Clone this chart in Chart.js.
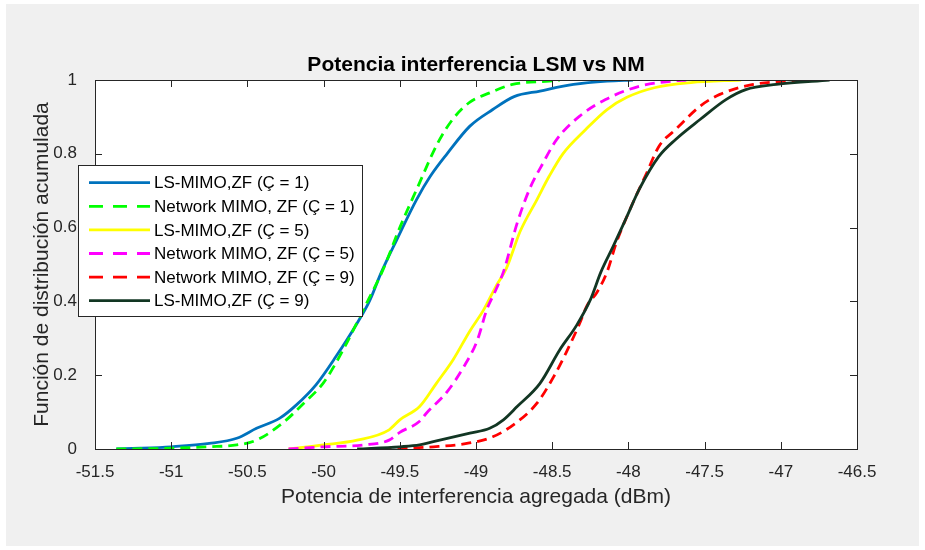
<!DOCTYPE html>
<html>
<head>
<meta charset="utf-8">
<script src="https://cdn.jsdelivr.net/npm/chart.js@4.4.1/dist/chart.umd.min.js"></script>
<style>
  html, body { margin: 0; padding: 0; background: #ffffff; }
  #wrap { width: 925px; height: 550px; }
</style>
</head>
<body>
<div id="wrap"><canvas id="cdfChart" width="925" height="550"></canvas></div>
<script>
// Datos (CDF de la potencia de interferencia)
const chartTitle = 'Potencia interferencia LSM vs NM';
const xTicks = [-51.5, -51, -50.5, -50, -49.5, -49, -48.5, -48, -47.5, -47, -46.5];
const yTicks = [0, 0.2, 0.4, 0.6, 0.8, 1];

const seriesLabels = [
    'LS-MIMO,ZF (Ç = 1)',
    'Network MIMO, ZF (Ç = 1)',
    'LS-MIMO,ZF (Ç = 5)',
    'Network MIMO, ZF (Ç = 5)',
    'Network MIMO, ZF (Ç = 9)',
    'LS-MIMO,ZF (Ç = 9)'
];

const ls1X = [-51.36, -51.2, -51.0, -50.75, -50.57, -50.44, -50.29, -50.18, -50.05, -49.92, -49.78, -49.70, -49.62, -49.52, -49.39, -49.30, -49.19, -49.04, -48.89, -48.75, -48.58, -48.36, -48.14, -47.97];
const ls1Y = [0, 0.002, 0.006, 0.015, 0.029, 0.056, 0.083, 0.119, 0.174, 0.25, 0.341, 0.40, 0.48, 0.567, 0.676, 0.739, 0.80, 0.875, 0.92, 0.955, 0.970, 0.988, 0.997, 1];

const nm1X = [-51.36, -51.0, -50.75, -50.57, -50.44, -50.27, -50.13, -50.0, -49.87, -49.74, -49.61, -49.50, -49.39, -49.25, -49.15, -49.04, -48.91, -48.76, -48.52, -48.45];
const nm1Y = [0, 0.002, 0.006, 0.011, 0.024, 0.07, 0.124, 0.18, 0.27, 0.377, 0.486, 0.60, 0.703, 0.83, 0.895, 0.94, 0.965, 0.988, 0.997, 1];

const ls5X = [-50.23, -50.0, -49.78, -49.57, -49.50, -49.37, -49.26, -49.15, -49.04, -48.95, -48.87, -48.80, -48.71, -48.60, -48.52, -48.43, -48.28, -48.14, -48.01, -47.83, -47.59, -47.26];
const ls5Y = [0, 0.011, 0.024, 0.052, 0.079, 0.115, 0.178, 0.242, 0.32, 0.377, 0.44, 0.49, 0.59, 0.676, 0.739, 0.80, 0.866, 0.92, 0.953, 0.979, 0.993, 1];

const nm5X = [-50.23, -50.0, -49.74, -49.57, -49.50, -49.37, -49.33, -49.19, -49.08, -48.99, -48.93, -48.87, -48.82, -48.73, -48.65, -48.56, -48.47, -48.32, -48.15, -47.93, -47.71, -47.62];
const nm5Y = [0, 0.006, 0.011, 0.024, 0.045, 0.075, 0.095, 0.155, 0.223, 0.296, 0.377, 0.431, 0.48, 0.612, 0.703, 0.775, 0.839, 0.902, 0.947, 0.983, 0.997, 1];

const nm9X = [-49.62, -49.28, -49.06, -48.89, -48.74, -48.60, -48.49, -48.41, -48.32, -48.27, -48.21, -48.14, -48.08, -47.99, -47.88, -47.80, -47.69, -47.53, -47.40, -47.18, -46.96, -46.80];
const nm9Y = [0, 0.006, 0.015, 0.033, 0.07, 0.124, 0.196, 0.26, 0.34, 0.39, 0.422, 0.48, 0.558, 0.649, 0.748, 0.82, 0.866, 0.929, 0.961, 0.988, 0.997, 1];

const ls9X = [-49.78, -49.5, -49.37, -49.28, -49.04, -48.91, -48.82, -48.73, -48.58, -48.45, -48.34, -48.25, -48.18, -48.10, -48.01, -47.93, -47.80, -47.69, -47.53, -47.36, -47.23, -47.03, -46.68];
const ls9Y = [0, 0.006, 0.011, 0.02, 0.043, 0.056, 0.079, 0.115, 0.178, 0.269, 0.335, 0.404, 0.48, 0.549, 0.63, 0.703, 0.793, 0.839, 0.893, 0.947, 0.974, 0.988, 1];

const FONT = '"Liberation Sans", Arial, Helvetica, sans-serif';
const AXIS_COLOR = '#262626';
const DASH = [10, 6];

function puntos(xs, ys) {
    return xs.map((x, i) => ({ x: x, y: ys[i] }));
}

const estilos = [
    { color: '#0072BD', dash: [] },
    { color: '#00FF00', dash: DASH },
    { color: '#FFFF00', dash: [] },
    { color: '#FF00FF', dash: DASH },
    { color: '#FF0000', dash: DASH },
    { color: '#123623', dash: [] }
];
const valores = [
    puntos(ls1X, ls1Y), puntos(nm1X, nm1Y), puntos(ls5X, ls5Y),
    puntos(nm5X, nm5Y), puntos(nm9X, nm9Y), puntos(ls9X, ls9Y)
];

const datasets = valores.map((data, i) => ({
    label: seriesLabels[i],
    data: data,
    borderColor: estilos[i].color,
    backgroundColor: estilos[i].color,
    borderDash: estilos[i].dash,
    borderWidth: 2.8,
    pointRadius: 0,
    fill: false,
    cubicInterpolationMode: 'monotone',
    order: 5 - i
}));

// Fondo gris estilo MATLAB, título, caja con marcas hacia dentro y leyenda
const figuraMatlab = {
    id: 'figuraMatlab',
    beforeDraw(chart) {
        const ctx = chart.ctx;
        const a = chart.chartArea;
        ctx.save();
        ctx.fillStyle = '#ffffff';
        ctx.fillRect(0, 0, chart.width, chart.height);
        ctx.fillStyle = '#f0f0f0';
        ctx.fillRect(6, 4, chart.width - 12, chart.height - 8);
        ctx.fillStyle = '#ffffff';
        ctx.fillRect(a.left, a.top, a.right - a.left, a.bottom - a.top);
        ctx.fillStyle = '#000000';
        ctx.font = 'bold 21px ' + FONT;
        ctx.textAlign = 'center';
        ctx.textBaseline = 'alphabetic';
        ctx.fillText(chartTitle, (a.left + a.right) / 2, 71);
        ctx.restore();
    },
    afterDatasetsDraw(chart) {
        const ctx = chart.ctx;
        const a = chart.chartArea;
        const xs = chart.scales.x;
        const ys = chart.scales.y;
        const tl = 7;
        ctx.save();
        ctx.strokeStyle = AXIS_COLOR;
        ctx.lineWidth = 1;
        ctx.beginPath();
        xTicks.forEach(v => {
            const px = Math.round(xs.getPixelForValue(v)) + 0.5;
            ctx.moveTo(px, a.bottom); ctx.lineTo(px, a.bottom - tl);
            ctx.moveTo(px, a.top); ctx.lineTo(px, a.top + tl);
        });
        yTicks.forEach(v => {
            const py = Math.round(ys.getPixelForValue(v)) + 0.5;
            ctx.moveTo(a.left, py); ctx.lineTo(a.left + tl, py);
            ctx.moveTo(a.right, py); ctx.lineTo(a.right - tl, py);
        });
        ctx.stroke();
        ctx.strokeRect(Math.round(a.left) + 0.5, Math.round(a.top) + 0.5,
            Math.round(a.right - a.left), Math.round(a.bottom - a.top));

        // Leyenda
        const lx = 78.5, ly = 165.5, lw = 284, lh = 151;
        ctx.fillStyle = '#ffffff';
        ctx.fillRect(lx, ly, lw, lh);
        ctx.strokeStyle = '#262626';
        ctx.strokeRect(lx, ly, lw, lh);
        ctx.font = '17px ' + FONT;
        ctx.textBaseline = 'middle';
        ctx.textAlign = 'left';
        chart.data.datasets.forEach((ds, i) => {
            const y = 182.7 + i * 23.6;
            ctx.beginPath();
            ctx.strokeStyle = ds.borderColor;
            ctx.lineWidth = ds.borderWidth;
            ctx.setLineDash(ds.borderDash.length ? [14, 10] : []);
            ctx.moveTo(89, y); ctx.lineTo(150, y);
            ctx.stroke();
            ctx.setLineDash([]);
            ctx.fillStyle = '#000000';
            ctx.fillText(ds.label, 154, y + 1);
        });
        ctx.restore();
    }
};

const ctx = document.getElementById('cdfChart');
const cdfChart = new Chart(ctx, {
    type: 'line',
    data: { datasets: datasets },
    options: {
        responsive: false,
        devicePixelRatio: 1,
        animation: false,
        layout: { padding: { left: 0, right: 68, top: 80, bottom: 0 } },
        plugins: {
            legend: { display: false },
            tooltip: { enabled: false },
            title: { display: false }
        },
        scales: {
            x: {
                type: 'linear',
                min: -51.5,
                max: -46.5,
                grid: { display: false },
                border: { display: false },
                afterBuildTicks(scale) { scale.ticks = xTicks.map(v => ({ value: v })); },
                afterFit(scale) { scale.height = 101; },
                ticks: {
                    color: AXIS_COLOR,
                    padding: 5,
                    maxRotation: 0,
                    autoSkip: false,
                    font: { family: FONT, size: 17 },
                    callback: v => String(v)
                },
                title: {
                    display: true,
                    text: 'Potencia de interferencia agregada (dBm)',
                    color: AXIS_COLOR,
                    font: { family: FONT, size: 21, lineHeight: 1.2 },
                    padding: { top: 0, bottom: 40 }
                }
            },
            y: {
                type: 'linear',
                min: 0,
                max: 1,
                grid: { display: false },
                border: { display: false },
                afterBuildTicks(scale) { scale.ticks = yTicks.map(v => ({ value: v })); },
                afterFit(scale) { scale.width = 95; },
                ticks: {
                    color: AXIS_COLOR,
                    padding: 10,
                    autoSkip: false,
                    font: { family: FONT, size: 17 },
                    callback: v => String(v)
                },
                title: {
                    display: true,
                    text: 'Función de distribución acumulada',
                    color: AXIS_COLOR,
                    font: { family: FONT, size: 21, lineHeight: 1.2 },
                    padding: { top: 30, bottom: 0 }
                }
            }
        }
    },
    plugins: [figuraMatlab]
});
</script>
</body>
</html>
